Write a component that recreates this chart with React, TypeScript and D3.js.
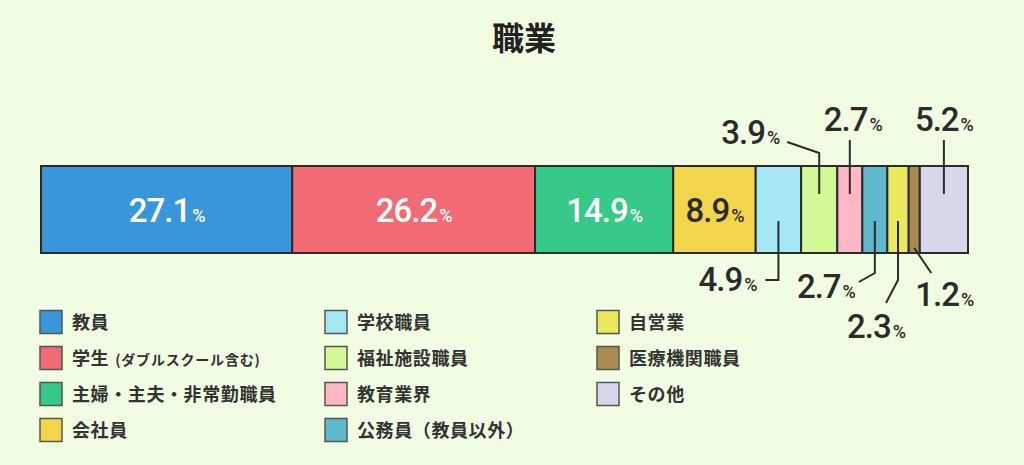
import * as d3 from 'd3';
import { useMemo } from 'react';

// data
const categories = [
  '教員', '学生', '主婦・主夫・非常勤職員', '会社員',
  '学校職員', '福祉施設職員', '教育業界', '公務員（教員以外）',
  '自営業', '医療機関職員', 'その他',
];
const notes = ['', '(ダブルスクール含む)', '', '', '', '', '', '', '', '', ''];
const values = [27.1, 26.2, 14.9, 8.9, 4.9, 3.9, 2.7, 2.7, 2.3, 1.2, 5.2];
const colors = [
  '#3a96da', '#f26b74', '#36c98a', '#f3d54b',
  '#a6e7f6', '#d3f896', '#ffb7c7', '#5fb9cd',
  '#ebea5f', '#ab8a50', '#d4d8ea',
];

// layout
const WIDTH = 1024;
const HEIGHT = 465;
const BAR = { left: 41, right: 968, top: 166, bottom: 253 };
const INK = '#2b2b2b';
const NUM_FONT = 'Roboto, "Noto Sans", sans-serif';
const JP_FONT = '"Noto Sans CJK JP", sans-serif';

// callouts for the small segments: index -> leader path offsets (relative to segment center) and text anchor
type Callout = {
  path: [number, number][];
  tx: number;
  ty: number;
  anchor: 'start' | 'middle' | 'end';
};
const callouts: Record<number, Callout> = {
  4: { path: [[0, 221], [0, 280], [-13, 280]], tx: -22, ty: 291, anchor: 'end' },
  5: { path: [[0, 194], [0, 153], [-32, 142]], tx: -40, ty: 144, anchor: 'end' },
  6: { path: [[0, 194], [0, 140]], tx: 3, ty: 131, anchor: 'middle' },
  7: { path: [[0, 221], [0, 273], [-16, 282]], tx: -20, ty: 298, anchor: 'end' },
  8: { path: [[0, 221], [0, 280], [-12, 303]], tx: -22, ty: 338, anchor: 'middle' },
  9: { path: [[0, 248], [17, 273]], tx: 1, ty: 306, anchor: 'start' },
  10: { path: [[0, 194], [0, 140]], tx: 0, ty: 131, anchor: 'middle' },
};

const LEGEND_COLS = [40, 325, 597];
const LEGEND_ROW0 = 322;
const LEGEND_STEP = 36;

function Pct({ x, y, v, fill, anchor }: { x: number; y: number; v: number; fill: string; anchor: string }) {
  return (
    <text
      x={x}
      y={y}
      textAnchor={anchor}
      fill={fill}
      fontFamily={NUM_FONT}
      fontWeight={500}
      fontSize={33}
      letterSpacing={-1}
    >
      {v.toFixed(1)}
      <tspan fontSize={18} dx={2}>%</tspan>
    </text>
  );
}

export default function App() {
  const xScale = useMemo(
    () => d3.scaleLinear().domain([0, d3.sum(values)]).range([BAR.left, BAR.right]),
    []
  );
  const starts = useMemo(() => {
    const c = d3.cumsum(values);
    return values.map((v, i) => c[i] - v);
  }, []);
  const line = d3.line();

  return (
    <svg
      width={WIDTH}
      height={HEIGHT}
      style={{ position: 'absolute', left: 0, top: 0 }}
    >
      <rect width={WIDTH} height={HEIGHT} fill="#f1fde3" />

      <text
        x={524}
        y={50}
        textAnchor="middle"
        fontFamily={JP_FONT}
        fontWeight={700}
        fontSize={32}
        fill="#222"
      >
        職業
      </text>

      {/* stacked bar */}
      {values.map((v, i) => {
        const x0 = xScale(starts[i]);
        const x1 = xScale(starts[i] + v);
        return (
          <rect
            key={categories[i]}
            x={x0}
            y={BAR.top}
            width={x1 - x0}
            height={BAR.bottom - BAR.top}
            fill={colors[i]}
            stroke={INK}
            strokeWidth={2}
          />
        );
      })}

      {/* labels */}
      {values.map((v, i) => {
        const cx = xScale(starts[i] + v / 2);
        const c = callouts[i];
        if (!c) {
          return (
            <Pct
              key={i}
              x={cx}
              y={222}
              v={v}
              fill={i < 3 ? '#fff' : INK}
              anchor="middle"
            />
          );
        }
        const pts = c.path.map(([dx, y]) => [cx + dx, y] as [number, number]);
        return (
          <g key={i}>
            <path d={line(pts) ?? ''} fill="none" stroke={INK} strokeWidth={2} />
            <Pct x={cx + c.tx} y={c.ty} v={v} fill={INK} anchor={c.anchor} />
          </g>
        );
      })}

      {/* legend */}
      {categories.map((name, i) => {
        const col = Math.floor(i / 4);
        const row = i % 4;
        const x = LEGEND_COLS[col];
        const cy = LEGEND_ROW0 + row * LEGEND_STEP;
        return (
          <g key={name}>
            <rect
              x={x}
              y={cy - 11.5}
              width={22}
              height={23}
              fill={colors[i]}
              stroke="#555"
              strokeWidth={1.5}
            />
            <text
              x={x + 32}
              y={cy + 6.5}
              fontFamily={JP_FONT}
              fontWeight={700}
              fontSize={18}
              letterSpacing={0.6}
              fill="#333"
            >
              {name}
              {notes[i] && (
                <tspan fontSize={14} letterSpacing={0.8} dx={6}>{notes[i]}</tspan>
              )}
            </text>
          </g>
        );
      })}
    </svg>
  );
}
